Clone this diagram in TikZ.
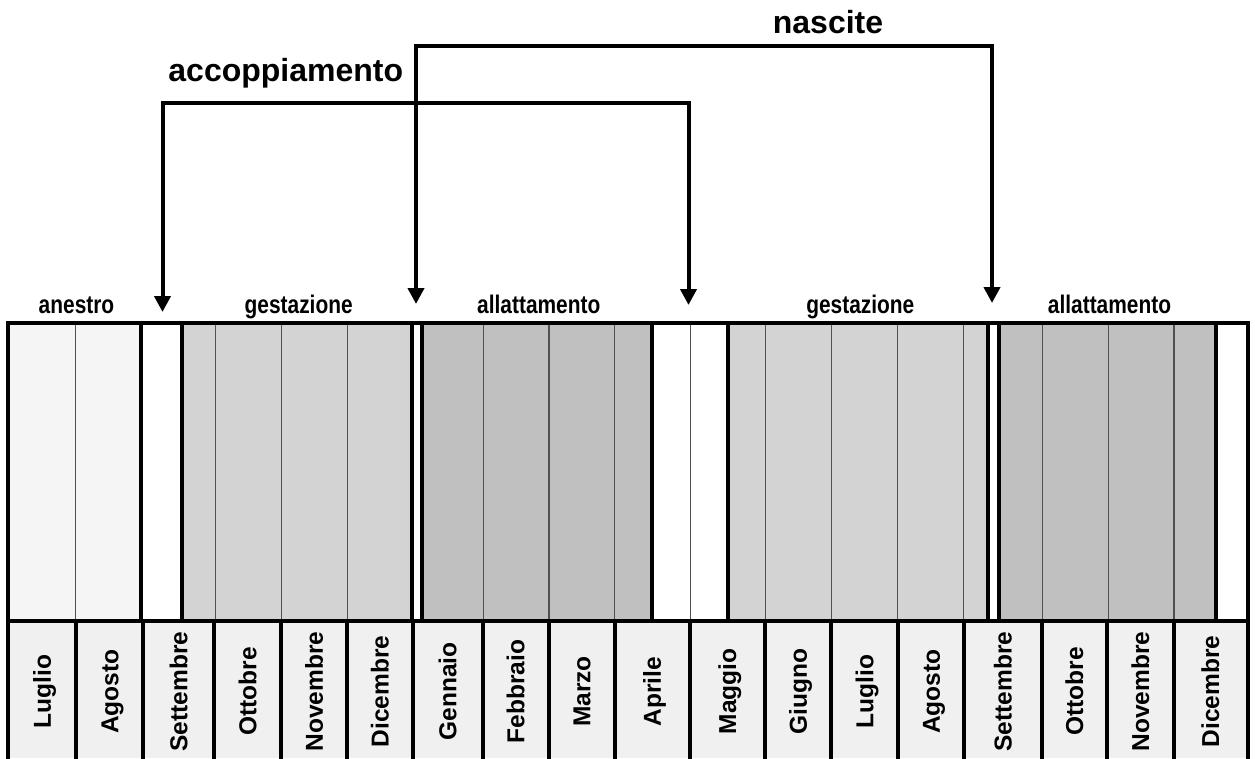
\documentclass[tikz,border=0pt]{standalone}
\usepackage{fontspec}
\setmainfont{Liberation Sans}
\usetikzlibrary{arrows.meta}
\definecolor{anes}{HTML}{F5F5F5}
\definecolor{gest}{HTML}{D3D3D3}
\definecolor{allat}{HTML}{C0C0C0}
\definecolor{monthbg}{HTML}{F0F0F0}
\definecolor{thinc}{HTML}{505050}
\tikzset{
  thick line/.style={line width=4pt, line cap=rect},
  thin line/.style={line width=1.2pt, draw=thinc},
  arrowline/.style={line width=4pt, line join=miter,
    {Triangle[width=16pt,length=16pt]}-{Triangle[width=16pt,length=16pt]}},
  toplabel/.style={font=\fontsize{32}{32}\selectfont\bfseries, anchor=base, inner sep=0pt},
  phaselabel/.style={font=\fontsize{25.5}{25.5}\selectfont\bfseries, anchor=base, inner sep=0pt, xscale=0.82},
  monthlabel/.style={font=\fontsize{24.5}{24.5}\selectfont\bfseries, rotate=90, anchor=center,
    inner sep=0pt, text height=17.5pt, text depth=0pt}
}
\begin{document}
\begin{tikzpicture}[x=1pt,y=-1pt]
\useasboundingbox (0,0) rectangle (1255,758);
\fill[white] (0,0) rectangle (1255,758);

% upper panel fills
\fill[anes] (8,323) rectangle (141,621);
\fill[gest] (182,323) rectangle (412,621);
\fill[allat] (422,323) rectangle (652,621);
\fill[gest] (728,323) rectangle (988,621);
\fill[allat] (999,323) rectangle (1216,621);
% month row
\fill[monthbg] (8,621) rectangle (1247,758);

% thin month lines in upper panel
\foreach \x in {75.7,215.7,281.7,347.7,483.3,549,614.3,690.7,765.7,831.7,897.3,963.3,1042.3,1108.3,1174}
  \draw[thin line] (\x,323) -- (\x,621);
% thick phase lines
\foreach \x in {141,182,412,422,652,728,988,999,1216}
  \draw[thick line] (\x,323) -- (\x,621);
% month separators
\foreach \x in {76,143,214,281,347,412.5,482.5,548.5,614.5,689.5,765,831,898,964,1041.5,1107,1173.5}
  \draw[thick line] (\x,621) -- (\x,760);
% frame
\draw[thick line] (8,760) -- (8,323) -- (1247.5,323) -- (1247.5,760);
\draw[thick line] (8,621) -- (1247.5,621);

% phase labels
\node[phaselabel] (ph1) at (76.5,313.3) {anestro};
\node[phaselabel] (ph2) at (298.7,313.3) {gestazione};
\node[phaselabel] (ph3) at (538.8,313.3) {allattamento};
\node[phaselabel] (ph4) at (860.3,313.3) {gestazione};
\node[phaselabel] (ph5) at (1109.5,313.3) {allattamento};

% month labels
\foreach \c/\m [count=\i] in {42/Luglio,109.5/Agosto,178.5/Settembre,247.5/Ottobre,314/Novembre,379.75/Dicembre,447.5/Gennaio,515.5/Febbraio,581.5/Marzo,652/Aprile,727.25/Maggio,798/Giugno,864.5/Luglio,931/Agosto,1002.75/Settembre,1074.25/Ottobre,1140.25/Novembre,1210.25/Dicembre}
  \node[monthlabel] (m\i) at (\c,691.5) {\m};

% top labels
\node[toplabel] (acc) at (285.8,81.7) {accoppiamento};
\node[toplabel] (nas) at (828,33.3) {nascite};

% arrow ends and corners
\coordinate (a1) at (162.5,312);
\coordinate (a1c) at (162.5,103);
\coordinate (a2c) at (688.5,103);
\coordinate (a2) at (688.5,305);
\coordinate (n1) at (416,304);
\coordinate (n1c) at (416,45.8);
\coordinate (n2c) at (992,45.8);
\coordinate (n2) at (992,303);

\draw[arrowline] (a1) -- (a1c) -- (a2c) -- (a2);
\draw[arrowline] (n1) -- (n1c) -- (n2c) -- (n2);
\end{tikzpicture}
\end{document}
